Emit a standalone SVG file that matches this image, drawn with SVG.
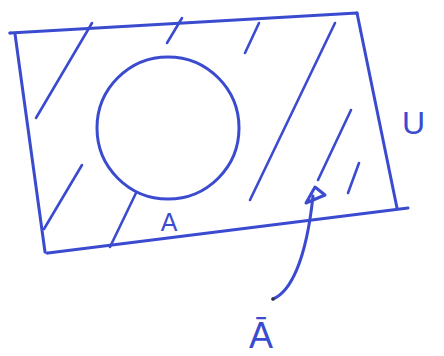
<svg xmlns="http://www.w3.org/2000/svg" width="444" height="356" viewBox="0 0 444 356">
<style>
.ink{fill:none;stroke:#3b4bd0;stroke-width:3;stroke-linecap:round;stroke-linejoin:round}
.hatch{fill:none;stroke:#3b4bd0;stroke-width:2.6;stroke-linecap:round}
.lbl{fill:#3b4bd0;font-family:"Liberation Sans",Arial,sans-serif}
</style>
<rect width="444" height="356" fill="#ffffff"/>
<g id="universe">
<path class="ink" d="M10,33 L357,13 L397,208"/>
<path class="ink" d="M15,34 L45,252"/>
<path class="ink" d="M48,253 L408,208"/>
<circle cx="10" cy="33" r="1.6" fill="#3b4bd0"/>
<circle cx="357" cy="13" r="1.6" fill="#3b4bd0"/>
<circle cx="47" cy="253" r="1.6" fill="#3b4bd0"/>
<g id="hatching">
<line class="hatch" x1="92" y1="23" x2="36" y2="118"/>
<line class="hatch" x1="182" y1="18" x2="167" y2="43"/>
<line class="hatch" x1="259" y1="23" x2="245" y2="53"/>
<line class="hatch" x1="335" y1="23" x2="250" y2="200"/>
<line class="hatch" x1="351" y1="110" x2="318" y2="180"/>
<line class="hatch" x1="359" y1="163" x2="348" y2="193"/>
<line class="hatch" x1="82" y1="165" x2="44" y2="229"/>
<line class="hatch" x1="136" y1="193" x2="110" y2="247"/>
</g>
<text class="lbl" x="402" y="134" font-size="32">U</text>
</g>
<g id="setA">
<circle class="ink" cx="168" cy="128" r="71"/>
<text class="lbl" x="169" y="231" font-size="25" text-anchor="middle">A</text>
</g>
<g id="connectors">
<path class="ink" d="M273,299 C290,292 306,262 313,196"/>
<path class="ink" stroke-width="2.4" d="M306,203 L315,187 L325,195 Z"/>
<circle cx="273" cy="299" r="1.8" fill="#333"/>
</g>
<g id="complement">
<text class="lbl" x="261" y="348" font-size="36" text-anchor="middle">Ā</text>
</g>
</svg>
